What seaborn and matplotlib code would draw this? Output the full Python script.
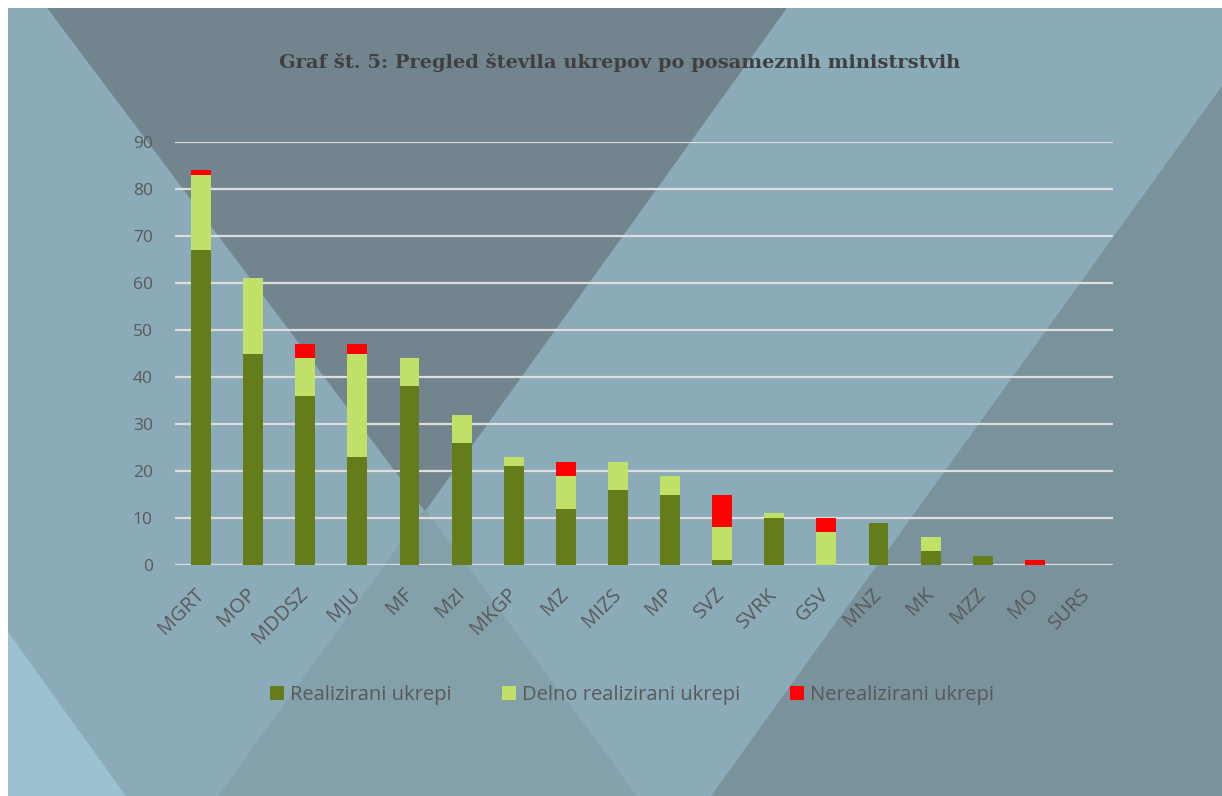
import numpy as np
import pandas as pd
import matplotlib
matplotlib.use('Agg')
import matplotlib.pyplot as plt
from matplotlib.patches import Polygon, Patch
import seaborn as sns

# ministries and number of measures per status
ministries = ['MGRT', 'MOP', 'MDDSZ', 'MJU', 'MF', 'MzI', 'MKGP', 'MZ', 'MIZS',
              'MP', 'SVZ', 'SVRK', 'GSV', 'MNZ', 'MK', 'MZZ', 'MO', 'SURS']
realized = [67, 45, 36, 23, 38, 26, 21, 12, 16, 15, 1, 10, 0, 9, 3, 2, 0, 0]
partial = [16, 16, 8, 22, 6, 6, 2, 7, 6, 4, 7, 1, 7, 0, 3, 0, 0, 0]
unrealized = [1, 0, 3, 2, 0, 0, 0, 3, 0, 0, 7, 0, 3, 0, 0, 0, 1, 0]
y_ticks = [0, 10, 20, 30, 40, 50, 60, 70, 80, 90]

series = ['Realizirani ukrepi', 'Delno realizirani ukrepi', 'Nerealizirani ukrepi']
colors = ['#657c1a', '#c0e067', '#ff0000']

df = pd.DataFrame({'ministry': ministries, 'real': realized,
                   'part': partial, 'nereal': unrealized})

sns.set_theme(style='white')
plt.rcParams['font.family'] = ['Open Sans', 'DejaVu Sans']

W, H = 1222, 796
fig = plt.figure(figsize=(W / 100, H / 100), dpi=100)
fig.patch.set_facecolor('white')

# decorative background, in pixel coordinates
bg = fig.add_axes([8 / W, 0, 1 - 8 / W, 1 - 8 / H])
bg.set_xlim(8, W)
bg.set_ylim(H, 8)
bg.axis('off')
bg.add_patch(Polygon([(8, 8), (W, 8), (W, H), (8, H)], color='#8cabb8'))
bg.add_patch(Polygon([(8, 633), (125, H), (8, H)], color='#9cc2d2'))
bg.add_patch(Polygon([(48, 8), (786, 8), (425, 510)], color='#72858f'))
bg.add_patch(Polygon([(425, 510), (219, H), (636, H)], color='#84a0aa'))
bg.add_patch(Polygon([(W, 86), (W, H), (711, H)], color='#7a929c'))

# chart area
ax = fig.add_axes([175 / W, (H - 565) / H, (1113 - 175) / W, (565 - 142) / H])
ax.set_facecolor('none')

bottom = np.zeros(len(df))
for col, name, c in zip(['real', 'part', 'nereal'], series, colors):
    sns.barplot(data=df, x='ministry', y=col, bottom=bottom, color=c,
                width=0.38, saturation=1, linewidth=0, ax=ax, zorder=3)
    bottom = bottom + df[col].values

ax.set_xlim(-0.5, len(ministries) - 0.5)
ax.set_ylim(0, 90)
ax.set_yticks(y_ticks)
ax.yaxis.grid(True, color='#dedede', linewidth=1.6, zorder=1)
ax.set_axisbelow(True)
for s in ax.spines.values():
    s.set_visible(False)
ax.set_xlabel('')
ax.set_ylabel('')
ax.tick_params(axis='y', length=0, pad=16, labelsize=12.5, labelcolor='#595959')
ax.tick_params(axis='x', length=0, pad=19, labelsize=14.5, labelcolor='#595959')
for lab in ax.get_xticklabels():
    lab.set_rotation(45)
    lab.set_ha('right')
    lab.set_va('center')
    lab.set_rotation_mode('anchor')

fig.text(620 / W, 1 - 63 / H,
         'Graf št. 5: Pregled števila ukrepov po posameznih ministrstvih',
         ha='center', va='center', fontsize=14, fontweight='bold',
         family='DejaVu Serif', color='#404040')

handles = [Patch(facecolor=c, edgecolor='none') for c in colors]
fig.legend(handles, series, loc='center', bbox_to_anchor=(632 / W, 1 - 695 / H),
           ncol=3, frameon=False, fontsize=14.5, handlelength=0.7,
           handleheight=0.7, handletextpad=0.3, columnspacing=2.5,
           labelcolor='#595959')

fig.savefig('out.png', dpi=100)
